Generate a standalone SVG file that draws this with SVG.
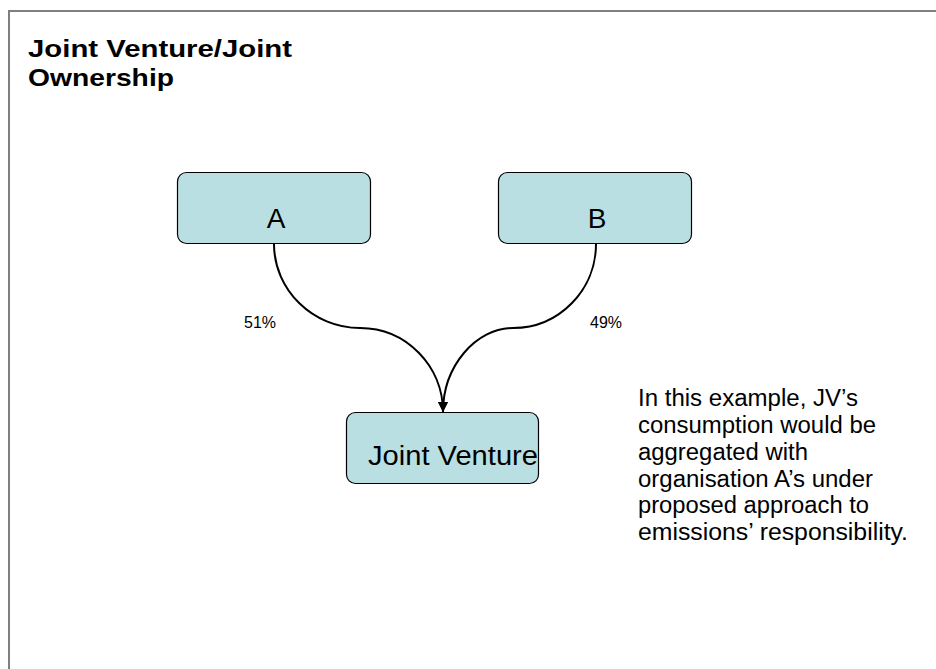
<svg xmlns="http://www.w3.org/2000/svg" width="936" height="669" viewBox="0 0 936 669">
<style>
.box{fill:#BADFE2;stroke:#000;stroke-width:1.2}
.lbl{font-family:"Liberation Sans",Arial,sans-serif;fill:#000}
.conn{fill:none;stroke:#000;stroke-width:2}
</style>
<defs>
<marker id="ah" markerWidth="12" markerHeight="12" refX="10" refY="5.5" orient="auto" markerUnits="userSpaceOnUse">
<path d="M0,0.5 L10,5.5 L0,10.5 Z" fill="#000"/>
</marker>
</defs>
<rect width="936" height="669" fill="#fff"/>
<rect x="9" y="11" width="1000" height="700" fill="none" stroke="#7f7f7f" stroke-width="2"/>
<g id="title">
<text class="lbl" x="28" y="57" font-size="24" font-weight="bold" textLength="264" lengthAdjust="spacingAndGlyphs">Joint Venture/Joint</text>
<text class="lbl" x="28" y="86" font-size="24" font-weight="bold" textLength="146" lengthAdjust="spacingAndGlyphs">Ownership</text>
</g>
<g id="connectors">
<path class="conn" d="M274,244 C274,290 313,328 360,328 C406,328 443,366 443,412" marker-end="url(#ah)"/>
<path class="conn" d="M596,244 C596,290 559,328 513,328 C476,328 443,366 443,412" marker-end="url(#ah)"/>
<text class="lbl" x="244" y="328" font-size="16" textLength="32" lengthAdjust="spacingAndGlyphs">51%</text>
<text class="lbl" x="590" y="328" font-size="16" textLength="32" lengthAdjust="spacingAndGlyphs">49%</text>
</g>
<g id="nodeA">
<rect class="box" x="177.5" y="172.5" width="193" height="71" rx="9"/>
<text class="lbl" x="276" y="228" font-size="28" text-anchor="middle">A</text>
</g>
<g id="nodeB">
<rect class="box" x="498.5" y="172.5" width="193" height="71" rx="9"/>
<text class="lbl" x="597" y="228" font-size="28" text-anchor="middle">B</text>
</g>
<g id="nodeJV">
<rect class="box" x="346.5" y="412.5" width="192" height="71" rx="9"/>
<text class="lbl" x="368" y="465" font-size="27" textLength="170" lengthAdjust="spacingAndGlyphs">Joint Venture</text>
</g>
<g id="note">
<text class="lbl" x="638" y="406" font-size="23" textLength="220" lengthAdjust="spacingAndGlyphs">In this example, JV’s</text>
<text class="lbl" x="638" y="433" font-size="23" textLength="238" lengthAdjust="spacingAndGlyphs">consumption would be</text>
<text class="lbl" x="638" y="460" font-size="23" textLength="170" lengthAdjust="spacingAndGlyphs">aggregated with</text>
<text class="lbl" x="638" y="486.5" font-size="23" textLength="235" lengthAdjust="spacingAndGlyphs">organisation A’s under</text>
<text class="lbl" x="638" y="513" font-size="23" textLength="231" lengthAdjust="spacingAndGlyphs">proposed approach to</text>
<text class="lbl" x="638" y="540" font-size="23" textLength="270" lengthAdjust="spacingAndGlyphs">emissions’ responsibility.</text>
</g>
</svg>
